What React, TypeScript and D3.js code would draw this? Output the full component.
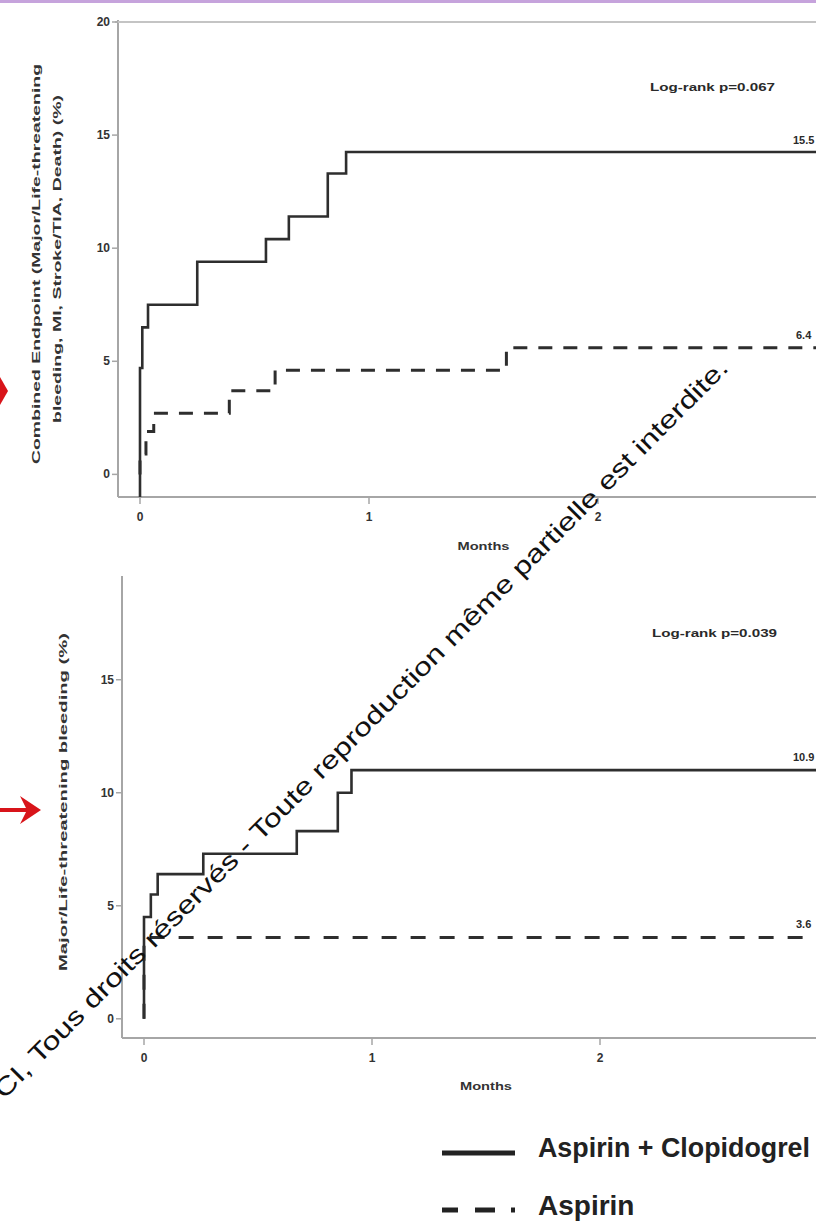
import React from 'react';
import * as d3 from 'd3';

// tick values
const monthTicks = [0, 1, 2];
const topYTicks = [0, 5, 10, 15, 20];
const bottomYTicks = [0, 5, 10, 15];

// Combined endpoint, Aspirin + Clopidogrel (months, %)
const topDualTimes = [0, 0, 0.01, 0.035, 0.25, 0.55, 0.65, 0.82, 0.9];
const topDualValues = [-1, 4.7, 6.5, 7.5, 9.4, 10.4, 11.4, 13.3, 14.25];
// Combined endpoint, Aspirin alone
const topAspTimes = [0, 0, 0.026, 0.06, 0.39, 0.59, 1.6];
const topAspValues = [0, 0.9, 1.9, 2.7, 3.7, 4.6, 5.6];

// Major / life-threatening bleeding
const botDualTimes = [0, 0, 0.03, 0.06, 0.26, 0.67, 0.85, 0.91];
const botDualValues = [0, 4.5, 5.5, 6.4, 7.3, 8.3, 10.0, 11.0];
const botAspTimes = [0, 0];
const botAspValues = [0, 3.6];

const endMonths = 3.1;

const font = "'Liberation Sans', Arial, sans-serif";
const curveColor = '#2e2e2e';
const axisColor = '#a6a6a6';

type Pt = { t: number; v: number };

function toPoints(times: number[], values: number[]): Pt[] {
  const pts = times.map((t, i) => ({ t, v: values[i] }));
  pts.push({ t: endMonths, v: values[values.length - 1] });
  return pts;
}

interface PanelProps {
  x0: number;
  xUnit: number;
  yTop: number;
  yBottom: number;
  yDomain: [number, number];
  yTicks: number[];
  dual: Pt[];
  asp: Pt[];
  dash: string;
  frameTop: boolean;
  pText: string;
  pX: number;
  pY: number;
  dualLabel: string;
  dualLabelY: number;
  aspLabel: string;
  aspLabelY: number;
  monthsY: number;
}

const Panel: React.FC<PanelProps> = (p) => {
  const axisX = p.x0 - 22;
  const x = d3.scaleLinear().domain([0, 1]).range([p.x0, p.x0 + p.xUnit]);
  const y = d3.scaleLinear().domain(p.yDomain).range([p.yBottom, p.yTop]);
  const line = d3
    .line<Pt>()
    .x((d) => x(d.t))
    .y((d) => y(d.v))
    .curve(d3.curveStepAfter);

  return (
    <g>
      {/* axes */}
      <line x1={axisX} x2={axisX} y1={p.yTop - 2} y2={p.yBottom} stroke={axisColor} strokeWidth={2} />
      <line x1={axisX} x2={816} y1={p.yBottom} y2={p.yBottom} stroke={axisColor} strokeWidth={2} />
      {p.frameTop && (
        <line x1={axisX - 3} x2={816} y1={y(20)} y2={y(20)} stroke="#c4c4c4" strokeWidth={2} />
      )}
      {p.yTicks.map((t) => (
        <g key={t}>
          <line x1={axisX - 6} x2={axisX} y1={y(t)} y2={y(t)} stroke={axisColor} strokeWidth={1.5} />
          <text
            x={axisX - 8}
            y={y(t) + 4}
            textAnchor="end"
            fontFamily={font}
            fontWeight="bold"
            fontSize={12}
            fill="#333"
          >
            {t}
          </text>
        </g>
      ))}
      {monthTicks.map((t) => (
        <g key={t}>
          <line x1={x(t)} x2={x(t)} y1={p.yBottom} y2={p.yBottom + 7} stroke={axisColor} strokeWidth={1.5} />
          <text
            x={x(t)}
            y={p.yBottom + 24}
            textAnchor="middle"
            fontFamily={font}
            fontWeight="bold"
            fontSize={12}
            fill="#333"
          >
            {t}
          </text>
        </g>
      ))}
      <text
        x={x(1.5)}
        y={p.monthsY}
        textAnchor="middle"
        fontFamily={font}
        fontWeight="bold"
        fontSize={11}
        textLength={52}
        lengthAdjust="spacingAndGlyphs"
        fill="#333"
      >
        Months
      </text>

      {/* curves */}
      <path d={line(p.asp) || ''} fill="none" stroke={curveColor} strokeWidth={3} strokeDasharray={p.dash} />
      <path d={line(p.dual) || ''} fill="none" stroke={curveColor} strokeWidth={2.6} />

      <text
        x={p.pX}
        y={p.pY}
        fontFamily={font}
        fontWeight="bold"
        fontSize={11}
        textLength={125}
        lengthAdjust="spacingAndGlyphs"
        fill="#2a2a2a"
      >
        {p.pText}
      </text>
      <text x={793} y={p.dualLabelY} fontFamily={font} fontWeight="bold" fontSize={11} fill="#2a2a2a">
        {p.dualLabel}
      </text>
      <text x={796} y={p.aspLabelY} fontFamily={font} fontWeight="bold" fontSize={11} fill="#2a2a2a">
        {p.aspLabel}
      </text>
    </g>
  );
};

export default function App() {
  return (
    <svg
      width={816}
      height={1223}
      style={{ position: 'absolute', left: 0, top: 0, background: '#fff' }}
    >
      <rect x={0} y={0} width={816} height={1223} fill="#fff" />
      <rect x={0} y={0} width={816} height={3} fill="#c6a3dc" />

      {/* top panel: combined endpoint */}
      <Panel
        x0={140}
        xUnit={229}
        yTop={22}
        yBottom={497}
        yDomain={[-1, 20]}
        yTicks={topYTicks}
        dual={toPoints(topDualTimes, topDualValues)}
        asp={toPoints(topAspTimes, topAspValues)}
        dash="14 11"
        frameTop={true}
        pText="Log-rank p=0.067"
        pX={650}
        pY={91}
        dualLabel="15.5"
        dualLabelY={144}
        aspLabel="6.4"
        aspLabelY={339}
        monthsY={550}
      />
      <g fontFamily={font} fontWeight="bold" fontSize={11} fill="#333">
        <text
          transform="translate(40,264) rotate(-90)"
          textAnchor="middle"
          textLength={400}
          lengthAdjust="spacingAndGlyphs"
        >
          Combined Endpoint (Major/Life-threatening
        </text>
        <text
          transform="translate(61,259) rotate(-90)"
          textAnchor="middle"
          textLength={328}
          lengthAdjust="spacingAndGlyphs"
        >
          bleeding, MI, Stroke/TIA, Death) (%)
        </text>
        <text
          transform="translate(67,802) rotate(-90)"
          textAnchor="middle"
          textLength={338}
          lengthAdjust="spacingAndGlyphs"
        >
          Major/Life-threatening bleeding (%)
        </text>
      </g>

      {/* bottom panel: bleeding */}
      <Panel
        x0={144}
        xUnit={228}
        yTop={578}
        yBottom={1038}
        yDomain={[-0.85, 19.5]}
        yTicks={bottomYTicks}
        dual={toPoints(botDualTimes, botDualValues)}
        asp={toPoints(botAspTimes, botAspValues)}
        dash="15 14"
        frameTop={false}
        pText="Log-rank p=0.039"
        pX={652}
        pY={637}
        dualLabel="10.9"
        dualLabelY={761}
        aspLabel="3.6"
        aspLabelY={928}
        monthsY={1090}
      />

      {/* red arrows */}
      <polygon points="0,377 8,391 0,405" fill="#d8141a" />
      <line x1={0} x2={30} y1={810} y2={810} stroke="#d8141a" strokeWidth={4} />
      <polygon points="20,796 41,810 20,824 27,810" fill="#d8141a" />

      {/* legend */}
      <line x1={442} x2={515} y1={1153} y2={1153} stroke="#222" strokeWidth={5} />
      <text
        x={538}
        y={1157}
        fontFamily={font}
        fontWeight="bold"
        fontSize={27}
        fill="#222"
        textLength={272}
        lengthAdjust="spacingAndGlyphs"
      >
        Aspirin + Clopidogrel
      </text>
      <line x1={442} x2={458} y1={1210} y2={1210} stroke="#222" strokeWidth={5} />
      <line x1={475} x2={495} y1={1210} y2={1210} stroke="#222" strokeWidth={5} />
      <line x1={511} x2={515} y1={1210} y2={1210} stroke="#222" strokeWidth={5} />
      <text x={538} y={1215} fontFamily={font} fontWeight="bold" fontSize={28} fill="#222">
        Aspirin
      </text>

      {/* copyright watermark */}
      <text
        transform="translate(4,1100) rotate(-45.2)"
        fontFamily={font}
        fontSize={25}
        fill="#111"
        textLength={1030}
        lengthAdjust="spacingAndGlyphs"
      >
        CI, Tous droits réservés - Toute reproduction même partielle est interdite.
      </text>
    </svg>
  );
}
